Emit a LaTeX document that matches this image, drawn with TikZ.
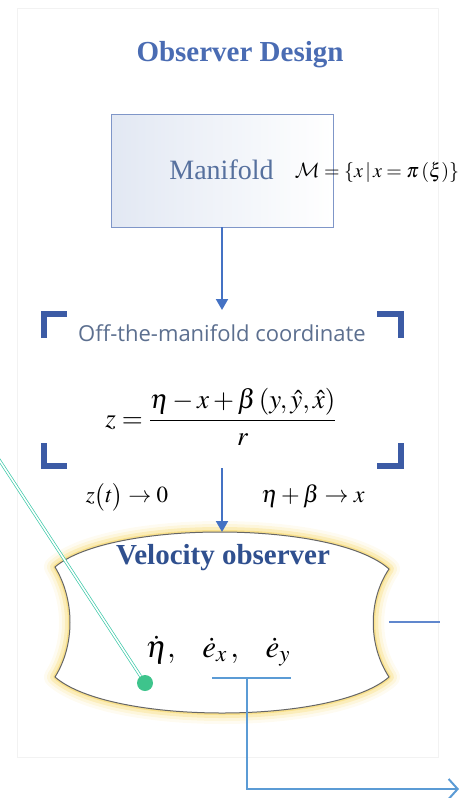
\documentclass[tikz,border=0pt]{standalone}
\usepackage{amsmath}
\usepackage{mathptmx}
\usepackage{fontspec}
\setmainfont{Liberation Serif}
\newfontfamily\uisans{Open Sans}
\usetikzlibrary{arrows.meta}
\DeclareMathAlphabet{\mathcalcm}{OMS}{cmsy}{m}{n}
\definecolor{titleblue}{HTML}{4A6CB3}
\definecolor{mantext}{HTML}{56709E}
\definecolor{offtext}{HTML}{5C6F8F}
\definecolor{brk}{HTML}{3C5BA5}
\definecolor{arrblue}{HTML}{4472C4}
\definecolor{lineblue}{HTML}{5B9BD5}
\definecolor{vobl}{HTML}{30508F}
\definecolor{boxedge}{HTML}{7F96C8}
\definecolor{boxfill}{HTML}{E2E8F3}
\definecolor{glow}{HTML}{F8DC7A}
\definecolor{teal}{HTML}{3CC9A8}
\definecolor{dotgreen}{HTML}{3EC48C}
\begin{document}
\begin{tikzpicture}[x=1pt,y=-1pt,
  arr/.style={draw=arrblue, line width=2pt, -{Triangle[width=12pt,length=11pt]}},
  bracket/.style={draw=brk, line width=6.5pt, line cap=butt, line join=miter},
  conn/.style={draw=lineblue, line width=2pt},
  txt/.style={inner sep=0pt, outer sep=0pt}]
\useasboundingbox (0,0) rectangle (461,798);
% faint panel
\draw[gray!10, line width=0.8pt] (17,8) rectangle (438,757);

% title
\node[txt, text=titleblue, font=\fontsize{29}{34}\selectfont\bfseries] (title) at (240,55) {Observer Design};

% manifold box
\node[txt, draw=boxedge, line width=1pt, left color=boxfill, right color=white,
      minimum width=222pt, minimum height=113pt] (man) at (222,170.5) {};
\node[txt, text=mantext, font=\fontsize{28}{32}\selectfont] (mantxt) at (221.5,170) {Manifold};
\node[txt, font=\fontsize{20}{24}\selectfont] (maneq) at (377,172)
  {$\mathcalcm{M}=\left\{x\,\middle|\,x=\pi\left(\xi\right)\right\}$};

% off-the-manifold section
\coordinate (offtop) at (222,310);
\coordinate (offbot) at (222,468);
\draw[bracket] (44,338) -- (44,314) -- (67,314);
\draw[bracket] (377,314) -- (401,314) -- (401,338);
\draw[bracket] (44,443) -- (44,466) -- (67,466);
\draw[bracket] (377,466) -- (401,466) -- (401,443);
\node[txt, text=offtext, font=\uisans\fontsize{22}{26}\selectfont] (offm) at (222,333) {Off-the-manifold coordinate};
\node[txt, font=\fontsize{27}{32}\selectfont] (zeq) at (221,417)
  {$z=\dfrac{\eta-x+\beta\left(y,\hat{y},\hat{x}\right)}{r}$};

\draw[arr] (man.south) -- (offtop);

\node[txt, font=\fontsize{23}{27}\selectfont] (zt) at (127,497) {$z\bigl(t\bigr)\rightarrow 0$};
\node[txt, font=\fontsize{24}{28}\selectfont] (eb) at (313,496) {$\eta+\beta\rightarrow x$};

% velocity observer shape
\def\vopath{(55,567) .. controls (110,520) and (334,520) .. (389,569)
   .. controls (368,600) and (368,645) .. (389,677)
   .. controls (334,725) and (110,725) .. (55,677)
   .. controls (75,645) and (75,600) .. (55,567) -- cycle}
\draw[glow, opacity=0.10, line width=22pt, line join=round] \vopath;
\draw[glow, opacity=0.18, line width=16pt, line join=round] \vopath;
\draw[glow, opacity=0.35, line width=10pt, line join=round] \vopath;
\draw[glow, opacity=0.7, line width=4pt, line join=round] \vopath;
\fill[white] \vopath;
\draw[black!60, line width=1pt] \vopath;
\coordinate (votop) at (222,532);
\coordinate (voright) at (389,622);

\draw[arr] (offbot) -- (votop);

\node[txt, text=vobl, font=\fontsize{29}{34}\selectfont\bfseries] (votitle) at (223,558) {Velocity observer};
\node[txt, font=\fontsize{31}{36}\selectfont] (voeq) at (218,651) {$\dot{\eta},\ \ \ \dot{e}_x\,,\ \ \ \dot{e}_y$};

% right connector stub
\coordinate (rstub) at (440,622);
\draw[draw=arrblue!85, line width=2pt] (voright) -- (rstub);

% underline bracket and output arrow
\coordinate (ul1) at (212,678);
\coordinate (ul2) at (291,678);
\coordinate (ulm) at (247,678);
\coordinate (outend) at (459,789);
\draw[conn] (ul1) -- (ul2);
\draw[conn, -{Straight Barb[length=9pt,width=20pt,line width=2pt]}] (ulm) |- (outend);

% green pointer
\coordinate (gstart) at (-2,458);
\node[circle, fill=dotgreen, minimum size=16pt, inner sep=0pt] (gdot) at (145,683) {};
\draw[teal, line width=0.7pt, double=white, double distance=1.6pt] (gstart) -- (gdot);
\end{tikzpicture}
\end{document}
